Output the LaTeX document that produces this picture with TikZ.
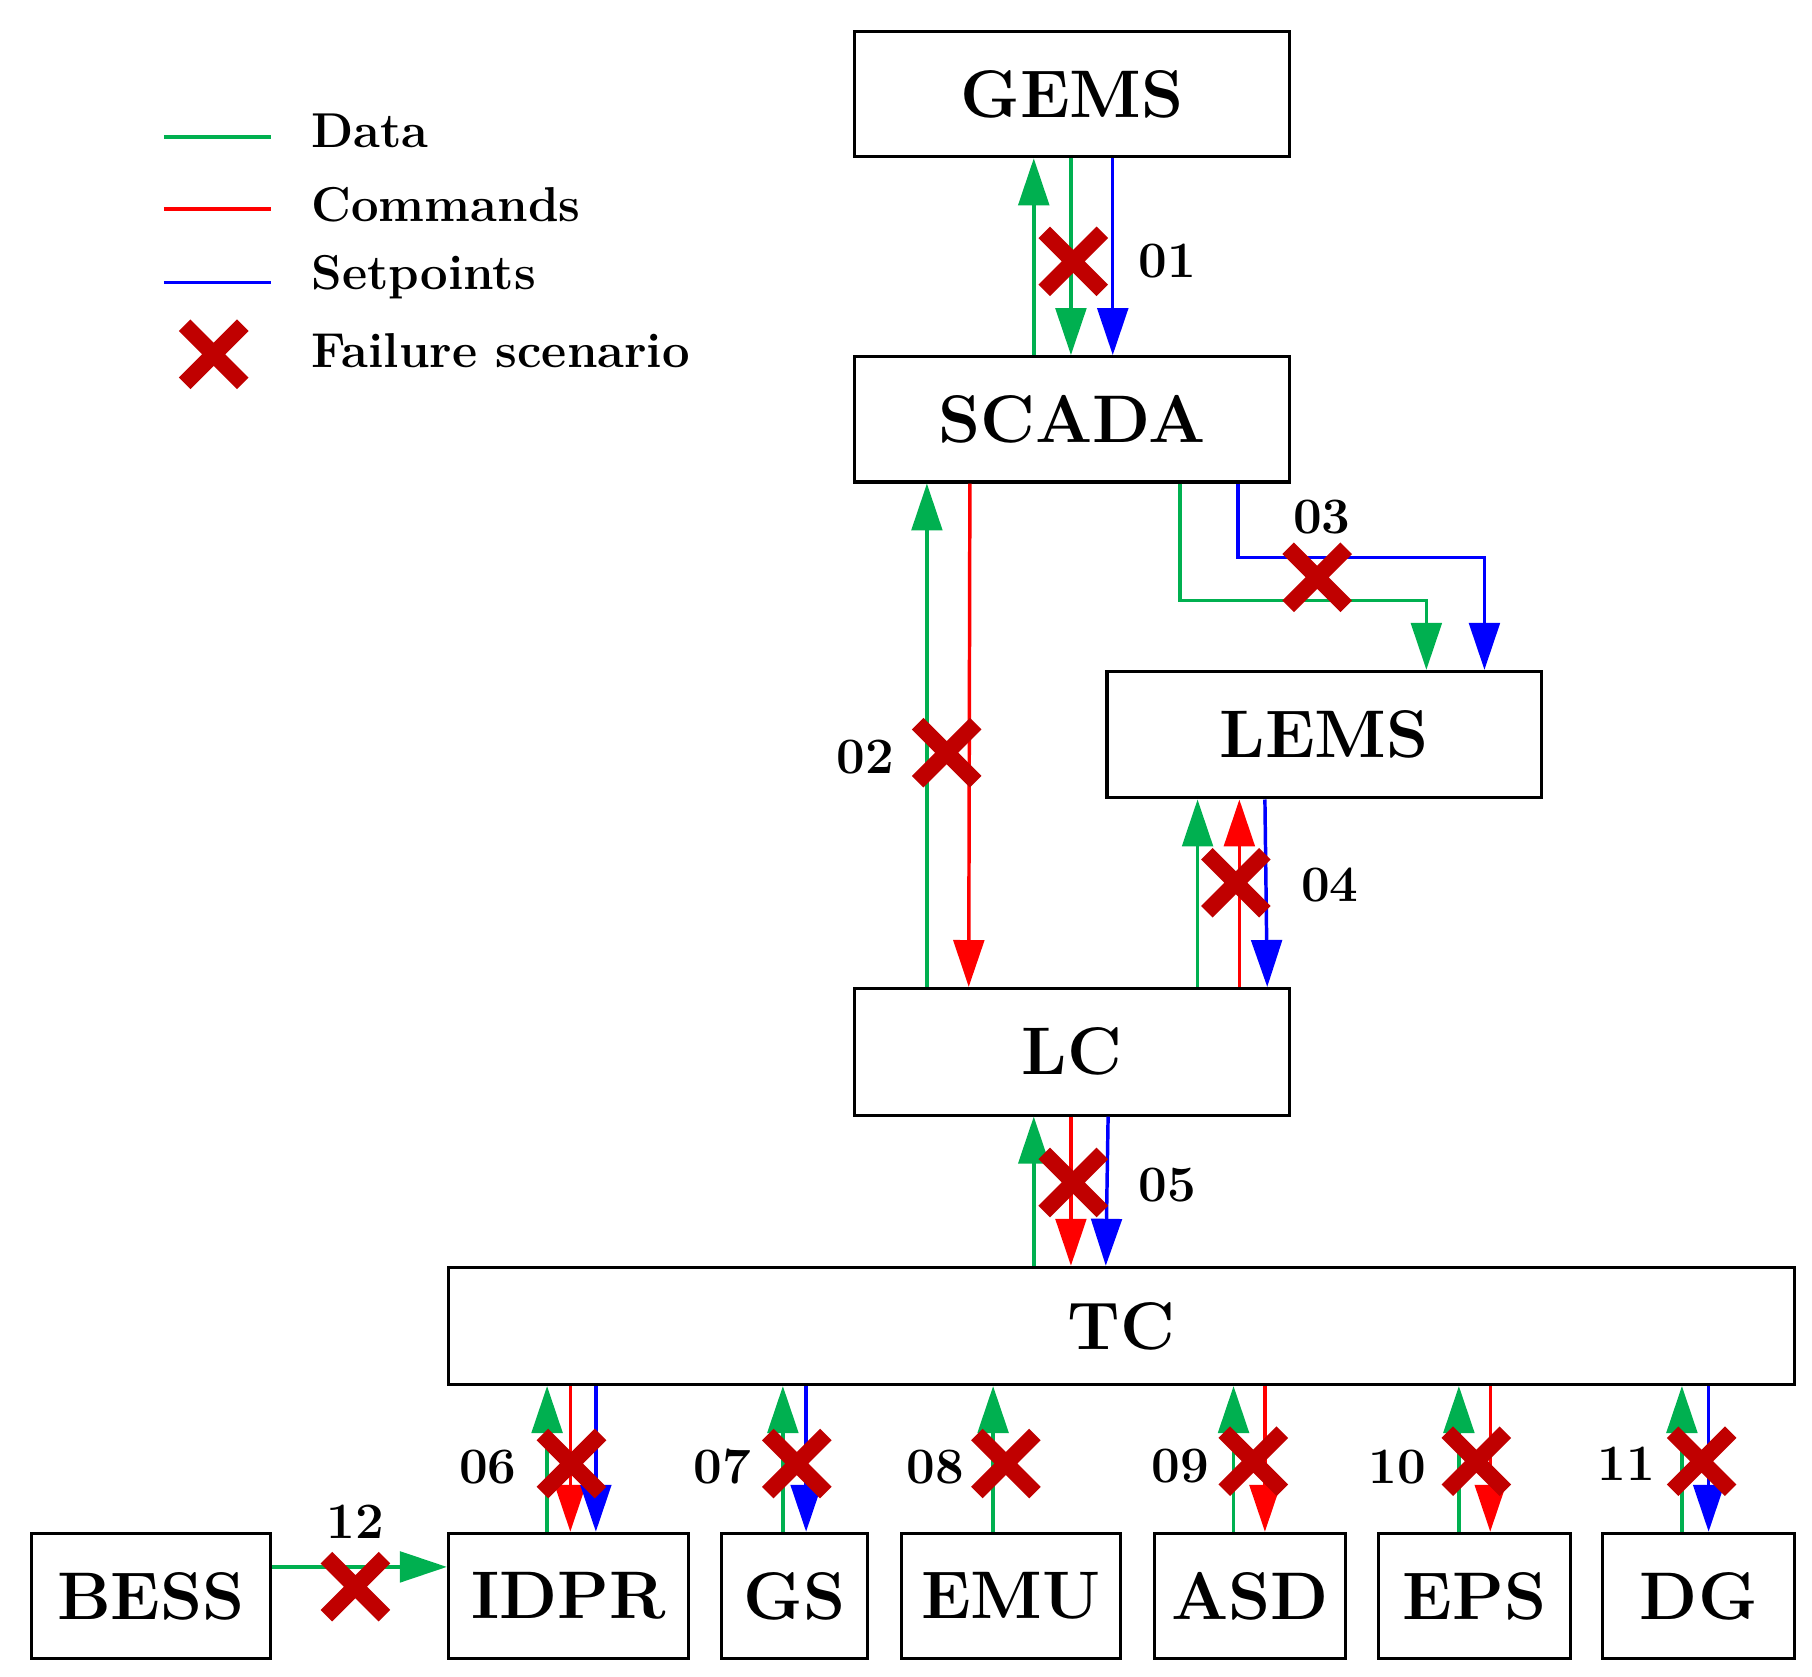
\documentclass[tikz,border=0pt]{standalone}
\usetikzlibrary{arrows.meta}
\definecolor{dg}{HTML}{00B050}
\definecolor{xr}{HTML}{C00000}
\begin{document}
\begin{tikzpicture}[x=0.02cm,y=-0.02cm,
 box/.style={draw,line width=1.5pt,inner sep=0pt,font=\fontsize{33}{38}\selectfont\bfseries},
 ar/.style={line width=1.7pt,-{Triangle[length=23pt,width=15pt]}},
 lbl/.style={font=\fontsize{25}{30}\selectfont\bfseries},
 leg/.style={font=\fontsize{24}{28}\selectfont\bfseries},
]
\newcommand{\xmark}[2]{\draw[xr,line width=8pt] (#1-25,#2-25) -- (#1+25,#2+25) (#1-25,#2+25) -- (#1+25,#2-25);}
\useasboundingbox (0,0) rectangle (1560,1443);
\node[box,minimum width=7.48cm,minimum height=2.16cm] (gems) at (923,81) {GEMS};
\node[box,minimum width=7.48cm,minimum height=2.16cm] (scada) at (923,361) {SCADA};
\node[box,minimum width=7.48cm,minimum height=2.18cm] (lems) at (1140,632.5) {LEMS};
\node[box,minimum width=7.48cm,minimum height=2.18cm] (lc) at (923,905.5) {LC};
\node[box,minimum width=23.18cm,minimum height=2.02cm] (tc) at (965.5,1141.5) {TC};
\node[box,minimum width=4.12cm,minimum height=2.16cm] (bess) at (130,1374) {BESS};
\node[box,minimum width=4.14cm,minimum height=2.16cm] (idpr) at (489.5,1374) {IDPR};
\node[box,minimum width=2.52cm,minimum height=2.16cm] (gs) at (684,1374) {GS};
\node[box,minimum width=3.78cm,minimum height=2.16cm] (emu) at (870.5,1374) {EMU};
\node[box,minimum width=3.28cm,minimum height=2.16cm] (asd) at (1076,1374) {ASD};
\node[box,minimum width=3.3cm,minimum height=2.16cm] (eps) at (1269.5,1374) {EPS};
\node[box,minimum width=3.3cm,minimum height=2.16cm] (dg) at (1462.5,1374) {DG};
% legend
\coordinate (l1a) at (141,118); \coordinate (l1b) at (233,118);
\coordinate (l2a) at (141,180); \coordinate (l2b) at (233,180);
\coordinate (l3a) at (141,243); \coordinate (l3b) at (233,243);
\draw[dg,line width=1.7pt] (l1a) -- (l1b);
\draw[red,line width=1.7pt] (l2a) -- (l2b);
\draw[blue,line width=1.7pt] (l3a) -- (l3b);
\node[leg,anchor=west] (t1) at (262,113) {Data};
\node[leg,anchor=west] (t2) at (262,176) {Commands};
\node[leg,anchor=west] (t3) at (262,239) {Setpoints};
\node[leg,anchor=west] (t4) at (262,302) {Failure scenario};
\xmark{184}{305}
% GEMS-SCADA
\draw[ar,dg] (scada.north -| 890,0) -- (gems.south -| 890,0);
\draw[ar,dg] (gems.south -| 922,0) -- (scada.north -| 922,0);
\draw[ar,blue] (gems.south -| 958,0) -- (scada.north -| 958,0);
\xmark{924}{225}
\node[lbl] (n01) at (1005,225) {01};
% SCADA-LC
\draw[ar,dg] (lc.north -| 798,0) -- (scada.south -| 798,0);
\draw[ar,red] (scada.south -| 835,0) -- (lc.north -| 834,0);
\xmark{815}{648}
\node[lbl] (n02) at (745,652) {02};
% SCADA-LEMS
\draw[ar,dg] (scada.south -| 1016,0) -- (1016,517) -- (1228,517) -- (lems.north -| 1228,0);
\draw[ar,blue] (scada.south -| 1066,0) -- (1066,480) -- (1278,480) -- (lems.north -| 1278,0);
\xmark{1134}{497}
\node[lbl] (n03) at (1138,445) {03};
% LEMS-LC
\draw[ar,dg] (lc.north -| 1031,0) -- (lems.south -| 1031,0);
\draw[ar,red] (lc.north -| 1067,0) -- (lems.south -| 1067,0);
\draw[ar,blue] (lems.south -| 1089,0) -- (lc.north -| 1091,0);
\xmark{1064}{760}
\node[lbl] (n04) at (1145,762) {04};
% LC-TC
\draw[ar,dg] (tc.north -| 890,0) -- (lc.south -| 890,0);
\draw[ar,red] (lc.south -| 922,0) -- (tc.north -| 922,0);
\draw[ar,blue] (lc.south -| 954,0) -- (tc.north -| 952,0);
\xmark{924}{1018}
\node[lbl] (n05) at (1005,1020) {05};
% TC - bottom
\draw[ar,dg] (idpr.north -| 471,0) -- (tc.south -| 471,0);
\draw[ar,red] (tc.south -| 491,0) -- (idpr.north -| 491,0);
\draw[ar,blue] (tc.south -| 513,0) -- (idpr.north -| 513,0);
\xmark{492}{1260}
\node[lbl] (n06) at (420,1263) {06};
\draw[ar,dg] (gs.north -| 674,0) -- (tc.south -| 674,0);
\draw[ar,blue] (tc.south -| 694,0) -- (gs.north -| 694,0);
\xmark{686}{1260}
\node[lbl] (n07) at (622,1263) {07};
\draw[ar,dg] (emu.north -| 855,0) -- (tc.south -| 855,0);
\xmark{866}{1260}
\node[lbl] (n08) at (805,1263) {08};
\draw[ar,dg] (asd.north -| 1062,0) -- (tc.south -| 1062,0);
\draw[ar,red] (tc.south -| 1089,0) -- (asd.north -| 1089,0);
\xmark{1079}{1258}
\node[lbl] (n09) at (1016,1262) {09};
\draw[ar,dg] (eps.north -| 1256,0) -- (tc.south -| 1256,0);
\draw[ar,red] (tc.south -| 1283,0) -- (eps.north -| 1283,0);
\xmark{1271}{1258}
\node[lbl] (n10) at (1203,1263) {10};
\draw[ar,dg] (dg.north -| 1448,0) -- (tc.south -| 1448,0);
\draw[ar,blue] (tc.south -| 1471,0) -- (dg.north -| 1471,0);
\xmark{1465}{1258}
\node[lbl] (n11) at (1400,1260) {11};
% BESS-IDPR
\draw[ar,dg] (bess.east |- 0,1349) -- (idpr.west |- 0,1349);
\xmark{306}{1366}
\node[lbl] (n12) at (306,1310) {12};
\end{tikzpicture}
\end{document}
